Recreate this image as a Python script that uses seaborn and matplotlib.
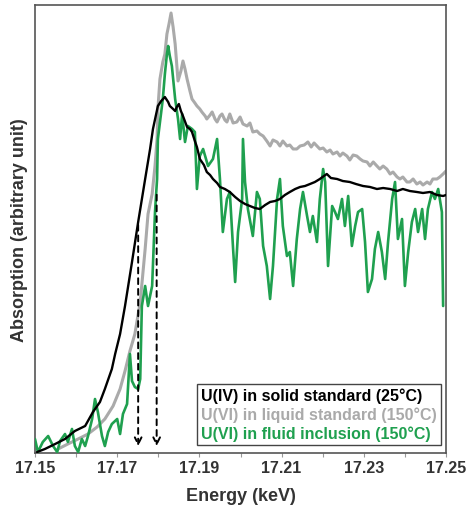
import matplotlib
matplotlib.use("Agg")
import matplotlib.pyplot as plt
import seaborn as sns

# ---------------- data ----------------
energy_u4 = [17.1505, 17.1524, 17.1549, 17.1573, 17.1597, 17.1622, 17.1641, 17.1658, 17.1670, 17.1687,
             17.1695, 17.1707, 17.1719, 17.1736, 17.1751, 17.1768, 17.1780, 17.1787, 17.1799, 17.1807,
             17.1816, 17.1824, 17.1828, 17.1836, 17.1841, 17.1845, 17.1850, 17.1855, 17.1860, 17.1870,
             17.1877, 17.1882, 17.1889, 17.1894, 17.1901, 17.1911, 17.1918, 17.1926, 17.1933, 17.1943,
             17.1950, 17.1962, 17.1974, 17.1987, 17.1999, 17.2011, 17.2023, 17.2035, 17.2047, 17.2060,
             17.2072, 17.2084, 17.2096, 17.2108, 17.2120, 17.2133, 17.2145, 17.2157, 17.2169, 17.2181,
             17.2193, 17.2203, 17.2210, 17.2220, 17.2235, 17.2249, 17.2266, 17.2281, 17.2298, 17.2315,
             17.2332, 17.2347, 17.2364, 17.2381, 17.2395, 17.2412, 17.2429, 17.2444, 17.2461, 17.2478,
             17.2493, 17.2500]
absorb_u4 = [0.22, 0.89, 2.01, 3.13, 4.91, 6.03, 9.15, 11.38, 14.29, 18.75,
             22.10, 26.56, 32.81, 42.63, 51.56, 61.16, 67.86, 72.32, 77.46, 78.57,
             79.46, 78.35, 77.46, 76.79, 76.34, 77.23, 77.90, 76.34, 75.22, 72.77,
             72.32, 71.65, 69.64, 68.30, 65.63, 64.29, 62.72, 62.05, 61.16, 60.27,
             59.38, 58.93, 58.26, 57.14, 56.25, 55.58, 55.13, 54.69, 54.46, 55.36,
             56.03, 56.25, 56.70, 57.59, 58.26, 58.93, 59.38, 59.60, 60.04, 60.49,
             61.16, 61.83, 62.28, 61.38, 61.16, 60.71, 60.49, 60.04, 59.60, 59.38,
             58.93, 59.15, 58.93, 58.48, 58.93, 58.48, 58.26, 58.04, 58.26, 57.59,
             57.37, 57.59]

energy_u6_liq = [17.1556, 17.1580, 17.1605, 17.1629, 17.1651, 17.1670, 17.1690, 17.1707, 17.1719, 17.1731,
                 17.1743, 17.1756, 17.1768, 17.1775, 17.1785, 17.1792, 17.1797, 17.1799, 17.1804, 17.1811,
                 17.1816, 17.1821, 17.1826, 17.1831, 17.1836, 17.1841, 17.1848, 17.1855, 17.1860, 17.1865,
                 17.1870, 17.1877, 17.1882, 17.1889, 17.1894, 17.1901, 17.1906, 17.1914, 17.1918, 17.1926,
                 17.1931, 17.1938, 17.1943, 17.1950, 17.1955, 17.1962, 17.1967, 17.1974, 17.1982, 17.1991,
                 17.1999, 17.2006, 17.2016, 17.2023, 17.2030, 17.2040, 17.2047, 17.2055, 17.2064, 17.2072,
                 17.2079, 17.2089, 17.2096, 17.2103, 17.2113, 17.2120, 17.2128, 17.2137, 17.2145, 17.2155,
                 17.2164, 17.2172, 17.2179, 17.2186, 17.2193, 17.2201, 17.2210, 17.2218, 17.2225, 17.2235,
                 17.2242, 17.2249, 17.2259, 17.2266, 17.2274, 17.2283, 17.2291, 17.2298, 17.2308, 17.2315,
                 17.2323, 17.2332, 17.2339, 17.2347, 17.2356, 17.2364, 17.2371, 17.2381, 17.2388, 17.2395,
                 17.2405, 17.2412, 17.2420, 17.2429, 17.2437, 17.2444, 17.2454, 17.2461, 17.2468, 17.2478,
                 17.2485, 17.2493, 17.2500]
absorb_u6_liq = [0.89, 2.01, 3.13, 4.24, 5.80, 7.59, 10.49, 14.29, 18.30, 22.77,
                 26.56, 33.71, 45.54, 53.35, 57.81, 64.06, 70.09, 76.79, 83.48, 87.28,
                 89.06, 93.53, 95.76, 98.21, 95.09, 91.29, 83.04, 85.27, 87.50, 85.71,
                 83.48, 80.80, 79.02, 78.13, 77.46, 76.79, 76.12, 75.22, 74.55, 75.45,
                 76.12, 74.55, 73.88, 75.22, 75.67, 74.33, 73.88, 75.67, 73.66, 73.88,
                 75.00, 73.44, 72.99, 73.66, 71.65, 71.88, 71.21, 70.76, 69.64, 68.53,
                 69.87, 69.42, 68.53, 69.64, 68.53, 68.75, 67.86, 67.86, 68.53, 68.75,
                 69.42, 68.30, 69.20, 68.53, 67.86, 68.08, 67.19, 67.63, 66.74, 67.19,
                 66.29, 66.96, 66.29, 65.40, 66.52, 66.29, 65.63, 65.18, 64.96, 64.06,
                 64.96, 64.06, 63.39, 64.06, 63.39, 62.28, 62.72, 61.61, 61.16, 61.61,
                 60.49, 60.49, 61.16, 60.04, 60.49, 59.82, 60.49, 60.04, 61.16, 61.16,
                 61.61, 62.28, 62.95]

energy_u6_fi = [17.1500, 17.1507, 17.1519, 17.1532, 17.1544, 17.1554, 17.1561, 17.1573, 17.1580, 17.1590,
                17.1597, 17.1605, 17.1614, 17.1622, 17.1629, 17.1639, 17.1646, 17.1653, 17.1663, 17.1670,
                17.1678, 17.1687, 17.1700, 17.1707, 17.1714, 17.1724, 17.1731, 17.1736, 17.1743, 17.1751,
                17.1756, 17.1760, 17.1768, 17.1775, 17.1785, 17.1792, 17.1797, 17.1799, 17.1811, 17.1816,
                17.1821, 17.1824, 17.1828, 17.1833, 17.1841, 17.1848, 17.1853, 17.1858, 17.1865, 17.1872,
                17.1882, 17.1889, 17.1894, 17.1901, 17.1909, 17.1921, 17.1933, 17.1943, 17.1950, 17.1957,
                17.1967, 17.1974, 17.1982, 17.1987, 17.1994, 17.2004, 17.2006, 17.2011, 17.2018, 17.2030,
                17.2040, 17.2047, 17.2055, 17.2064, 17.2072, 17.2079, 17.2089, 17.2096, 17.2103, 17.2113,
                17.2120, 17.2128, 17.2137, 17.2145, 17.2152, 17.2162, 17.2169, 17.2176, 17.2186, 17.2193,
                17.2201, 17.2206, 17.2213, 17.2223, 17.2230, 17.2237, 17.2247, 17.2254, 17.2262, 17.2271,
                17.2279, 17.2286, 17.2296, 17.2303, 17.2310, 17.2320, 17.2327, 17.2335, 17.2344, 17.2352,
                17.2359, 17.2369, 17.2376, 17.2383, 17.2393, 17.2400, 17.2408, 17.2417, 17.2425, 17.2432,
                17.2442, 17.2449, 17.2456, 17.2466, 17.2473, 17.2481, 17.2490, 17.2493]
absorb_u6_fi = [3.13, 0.22, 2.46, 3.79, 1.56, 0.22, 2.68, 4.24, 2.46, 5.36,
                1.56, 0.22, 3.13, 1.56, 3.79, 7.59, 12.05, 9.15, 3.79, 1.56,
                4.69, 6.47, 7.59, 4.24, 8.71, 10.94, 22.10, 16.07, 14.73, 14.29,
                16.52, 32.81, 37.28, 32.81, 37.28, 53.79, 61.16, 70.09, 79.02, 84.60,
                89.06, 90.85, 88.62, 86.38, 79.02, 74.55, 70.09, 75.67, 69.42, 72.99,
                72.32, 71.65, 58.93, 66.29, 67.86, 64.06, 65.63, 70.09, 61.16, 49.33,
                56.70, 58.26, 45.54, 38.17, 49.33, 56.70, 70.09, 60.49, 54.46, 48.44,
                58.26, 56.70, 46.21, 41.74, 34.38, 41.74, 56.70, 61.16, 50.67, 43.97,
                44.87, 37.28, 47.77, 54.46, 58.26, 52.90, 49.33, 52.90, 47.10, 56.70,
                63.39, 60.49, 41.74, 55.13, 53.79, 52.23, 56.70, 50.67, 57.37, 46.21,
                50.67, 53.79, 54.46, 47.10, 35.94, 38.84, 45.54, 49.33, 44.87, 38.84,
                47.10, 56.70, 60.49, 47.77, 52.23, 37.28, 44.87, 51.56, 54.46, 49.33,
                54.46, 47.77, 54.46, 58.26, 56.70, 58.93, 53.79, 32.81]

legend_labels = ["U(IV) in solid standard (25°C)",
                 "U(VI) in liquid standard (150°C)",
                 "U(VI) in fluid inclusion (150°C)"]
series_colors = ["#000000", "#aaaaaa", "#1fa04f"]

arrow_energy = [17.1751, 17.1796]
arrow_start = [51.56, 58.26]
arrow_end = 0.9

xticks_major = [17.15, 17.17, 17.19, 17.21, 17.23, 17.25]
xticks_minor = [17.16, 17.18, 17.20, 17.22, 17.24]

# ---------------- plot ----------------
sns.set_style("white")
plt.rcParams['font.family'] = ['Liberation Sans', 'DejaVu Sans']

fig = plt.figure(figsize=(4.67, 5.10), dpi=100)
ax = fig.add_axes([35 / 467, 1 - 454 / 510, 411 / 467, 448 / 510])

sns.lineplot(x=energy_u6_liq, y=absorb_u6_liq, ax=ax, color=series_colors[1], lw=2.2,
             sort=False, zorder=2, label=legend_labels[1])
sns.lineplot(x=energy_u6_fi, y=absorb_u6_fi, ax=ax, color=series_colors[2], lw=1.9,
             sort=False, zorder=3, label=legend_labels[2])
sns.lineplot(x=energy_u4, y=absorb_u4, ax=ax, color=series_colors[0], lw=1.7,
             sort=False, zorder=4, label=legend_labels[0])

for xe, ys in zip(arrow_energy, arrow_start):
    ax.annotate("", xy=(xe, arrow_end), xytext=(xe, ys),
                arrowprops=dict(arrowstyle="->", color="black", lw=1.4,
                                linestyle=(0, (3, 2.5)), mutation_scale=12),
                zorder=5)

ax.set_xlim(17.15, 17.25)
ax.set_ylim(0, 100)
ax.set_xticks(xticks_major)
ax.set_xticklabels([f"{v:.2f}" for v in xticks_major], fontweight="bold", fontsize=11.5, color="#333333")
ax.set_xticks(xticks_minor, minor=True)
ax.set_yticks([])
ax.tick_params(axis="x", which="both", direction="out", length=3, width=0.8, color="#999999",
               pad=2, bottom=True)

for s in ax.spines.values():
    s.set_color("#555555")
    s.set_linewidth(1.2)

ax.set_xlabel("Energy (keV)", fontweight="bold", fontsize=13, color="#333333", labelpad=9)
ax.set_ylabel("Absorption (arbitrary unit)", fontweight="bold", fontsize=13, color="#333333", labelpad=5)

handles, labels = ax.get_legend_handles_labels()
order = [labels.index(l) for l in legend_labels]
leg = ax.legend([handles[i] for i in order], [labels[i] for i in order],
                loc="lower right", bbox_to_anchor=(0.988, 0.018), borderaxespad=0,
                handlelength=0, handletextpad=0,
                fancybox=False, framealpha=1, edgecolor="#444444", borderpad=0.25,
                labelspacing=0.2, prop={"weight": "bold", "size": 11.5})
leg.get_frame().set_linewidth(1.0)
for h in leg.legend_handles:
    h.set_visible(False)
for txt, c in zip(leg.get_texts(), series_colors):
    txt.set_color(c)

fig.savefig("out.png", dpi=100)
